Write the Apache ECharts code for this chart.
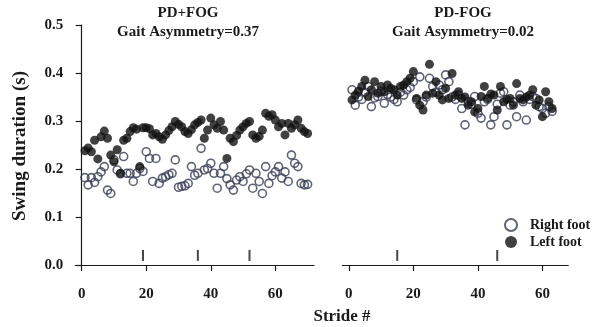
<!DOCTYPE html>
<html><head><meta charset="utf-8">
<script src="https://cdn.jsdelivr.net/npm/echarts@6/dist/echarts.min.js"></script>
<style>html,body{margin:0;padding:0;background:#fff}#c{width:613px;height:327px}</style>
</head><body><div id="c"></div>
<script>
// ---- DATA ----
const panelTitles = ['PD+FOG', 'PD-FOG'];
const panelSubtitles = ['Gait Asymmetry=0.37', 'Gait Asymmetry=0.02'];
const xTickValues = [0, 20, 40, 60];
const yTickValues = [0, 0.1, 0.2, 0.3, 0.4, 0.5];
// PD+FOG panel, swing duration (s) per stride
const fogRightFoot = [0.182,0.167,0.182,0.172,0.184,0.194,0.205,0.156,0.149,0.219,0.198,0.190,0.226,0.191,0.191,0.174,0.191,0.201,0.195,0.236,0.222,0.174,0.222,0.170,0.181,0.184,0.188,0.191,0.219,0.162,0.164,0.165,0.170,0.205,0.187,0.191,0.243,0.198,0.201,0.212,0.191,0.160,0.191,0.205,0.180,0.167,0.156,0.177,0.184,0.174,0.190,0.198,0.160,0.191,0.174,0.149,0.205,0.170,0.186,0.194,0.205,0.181,0.194,0.174,0.229,0.212,0.205,0.170,0.167,0.168];
const fogLeftFoot = [0.238,0.244,0.236,0.260,0.221,0.267,0.279,0.264,0.229,0.215,0.240,0.191,0.260,0.264,0.278,0.286,0.283,0.205,0.286,0.286,0.284,0.271,0.274,0.267,0.262,0.271,0.280,0.288,0.299,0.293,0.288,0.278,0.274,0.282,0.292,0.297,0.302,0.264,0.281,0.306,0.292,0.285,0.299,0.281,0.222,0.264,0.257,0.270,0.281,0.288,0.295,0.299,0.271,0.264,0.268,0.281,0.316,0.310,0.313,0.302,0.288,0.295,0.271,0.295,0.285,0.292,0.302,0.285,0.278,0.274];
// PD-FOG panel
const noFogRightFoot = [0.365,0.333,0.350,0.345,0.360,0.372,0.330,0.348,0.351,0.362,0.337,0.355,0.350,0.345,0.340,0.360,0.354,0.365,0.370,0.382,0.344,0.392,0.340,0.350,0.389,0.372,0.360,0.375,0.365,0.396,0.382,0.350,0.345,0.354,0.326,0.292,0.340,0.335,0.351,0.316,0.306,0.340,0.345,0.292,0.309,0.335,0.358,0.361,0.292,0.333,0.340,0.309,0.354,0.340,0.302,0.345,0.351,0.347,0.330,0.326,0.316,0.330,0.320];
const noFogLeftFoot = [0.344,0.354,0.362,0.372,0.385,0.351,0.365,0.382,0.358,0.372,0.361,0.375,0.368,0.365,0.354,0.372,0.375,0.382,0.389,0.403,0.347,0.333,0.323,0.354,0.418,0.358,0.382,0.354,0.344,0.368,0.347,0.399,0.354,0.361,0.347,0.350,0.333,0.340,0.319,0.326,0.351,0.372,0.347,0.356,0.354,0.323,0.372,0.340,0.345,0.347,0.333,0.378,0.347,0.344,0.350,0.354,0.365,0.333,0.344,0.309,0.361,0.340,0.326];
// stride markers along the bottom
const fogMarkerStrides = [19, 36, 52];
const noFogMarkerStrides = [15, 46];
const markerLevel = 0.02;

// ---- CHART ----
const FONT = '"Liberation Serif","Times New Roman",serif';
const INK = '#1a1a1a';
const RING = '#373d52';
const U = 3.227; // px per stride
const panels = [
  {min: -2, max: 72, zero: 81.7},
  {min: -2, max: 68, zero: 348.8}
];
const grids = panels.map(p => ({left: p.zero + p.min * U, top: 25, width: (p.max - p.min) * U, height: 240}));
const pairs = arr => arr.map((v, i) => [i + 1, v]);
const marks = arr => arr.map(s => [s, markerLevel]);
const lbl = {fontFamily: FONT, fontWeight: 'bold', fontSize: 15, color: INK};

const xAxes = panels.map((p, i) => ({
  gridIndex: i, type: 'value', min: p.min, max: p.max, offset: 4,
  axisLine: {show: true, lineStyle: {color: INK, width: 1.2}},
  axisTick: {show: true, length: 6, customValues: xTickValues, lineStyle: {color: INK, width: 1.2}},
  axisLabel: Object.assign({customValues: xTickValues, margin: 18}, lbl),
  splitLine: {show: false}
}));
const yAxes = panels.map((p, i) => ({
  gridIndex: i, type: 'value', min: 0, max: 0.5, interval: 0.1,
  axisLine: {show: i === 0, lineStyle: {color: INK, width: 1.2}},
  axisTick: {show: i === 0, length: 6, lineStyle: {color: INK, width: 1.2}},
  axisLabel: Object.assign({show: i === 0, margin: 12, formatter: v => v.toFixed(1)}, lbl),
  splitLine: {show: false}
}));

function openSeries(data, idx) {
  return {type: 'scatter', name: 'Right foot', xAxisIndex: idx, yAxisIndex: idx, data: pairs(data),
    symbol: 'circle', symbolSize: 8,
    itemStyle: {color: 'rgba(255,255,255,0)', borderColor: RING, borderWidth: 1.6},
    emphasis: {disabled: true}, z: 2};
}
function filledSeries(data, idx) {
  return {type: 'scatter', name: 'Left foot', xAxisIndex: idx, yAxisIndex: idx, data: pairs(data),
    symbol: 'circle', symbolSize: 9,
    itemStyle: {color: '#121212'}, emphasis: {disabled: true}, z: 3};
}
function markSeries(data, idx) {
  return {type: 'scatter', name: 'markers', xAxisIndex: idx, yAxisIndex: idx, data: marks(data),
    symbol: 'rect', symbolSize: [2, 11], itemStyle: {color: INK}, emphasis: {disabled: true}, z: 2};
}

const titleGraphics = [];
[188, 463].forEach((cx, i) => {
  titleGraphics.push({type: 'text', x: cx, y: 13, style: {text: panelTitles[i], font: 'bold 15px ' + FONT, fill: INK, align: 'center', verticalAlign: 'middle'}});
  titleGraphics.push({type: 'text', x: cx, y: 32, style: {text: panelSubtitles[i], font: 'bold 15px ' + FONT, fill: INK, align: 'center', verticalAlign: 'middle'}});
});
titleGraphics.push({type: 'text', x: 20, y: 146, rotation: Math.PI / 2, style: {text: 'Swing duration (s)', font: 'bold 19px ' + FONT, fill: INK, align: 'center', verticalAlign: 'middle'}});
titleGraphics.push({type: 'text', x: 342, y: 317, style: {text: 'Stride #', font: 'bold 17px ' + FONT, fill: INK, align: 'center', verticalAlign: 'middle'}});

const chart = echarts.init(document.getElementById('c'), null, {renderer: 'canvas'});
chart.setOption({
  animation: false,
  backgroundColor: '#fff',
  grid: grids,
  xAxis: xAxes,
  yAxis: yAxes,
  legend: {
    data: ['Right foot', 'Left foot'], orient: 'vertical', left: 504, top: 218, padding: 0,
    icon: 'circle', itemWidth: 12, itemHeight: 12, itemGap: 3,
    textStyle: {fontFamily: FONT, fontWeight: 'bold', fontSize: 14, color: INK, padding: [0, 0, 0, 8]}
  },
  graphic: titleGraphics,
  series: [
    openSeries(fogRightFoot, 0), filledSeries(fogLeftFoot, 0), markSeries(fogMarkerStrides, 0),
    openSeries(noFogRightFoot, 1), filledSeries(noFogLeftFoot, 1), markSeries(noFogMarkerStrides, 1)
  ]
});
</script>
</body></html>
